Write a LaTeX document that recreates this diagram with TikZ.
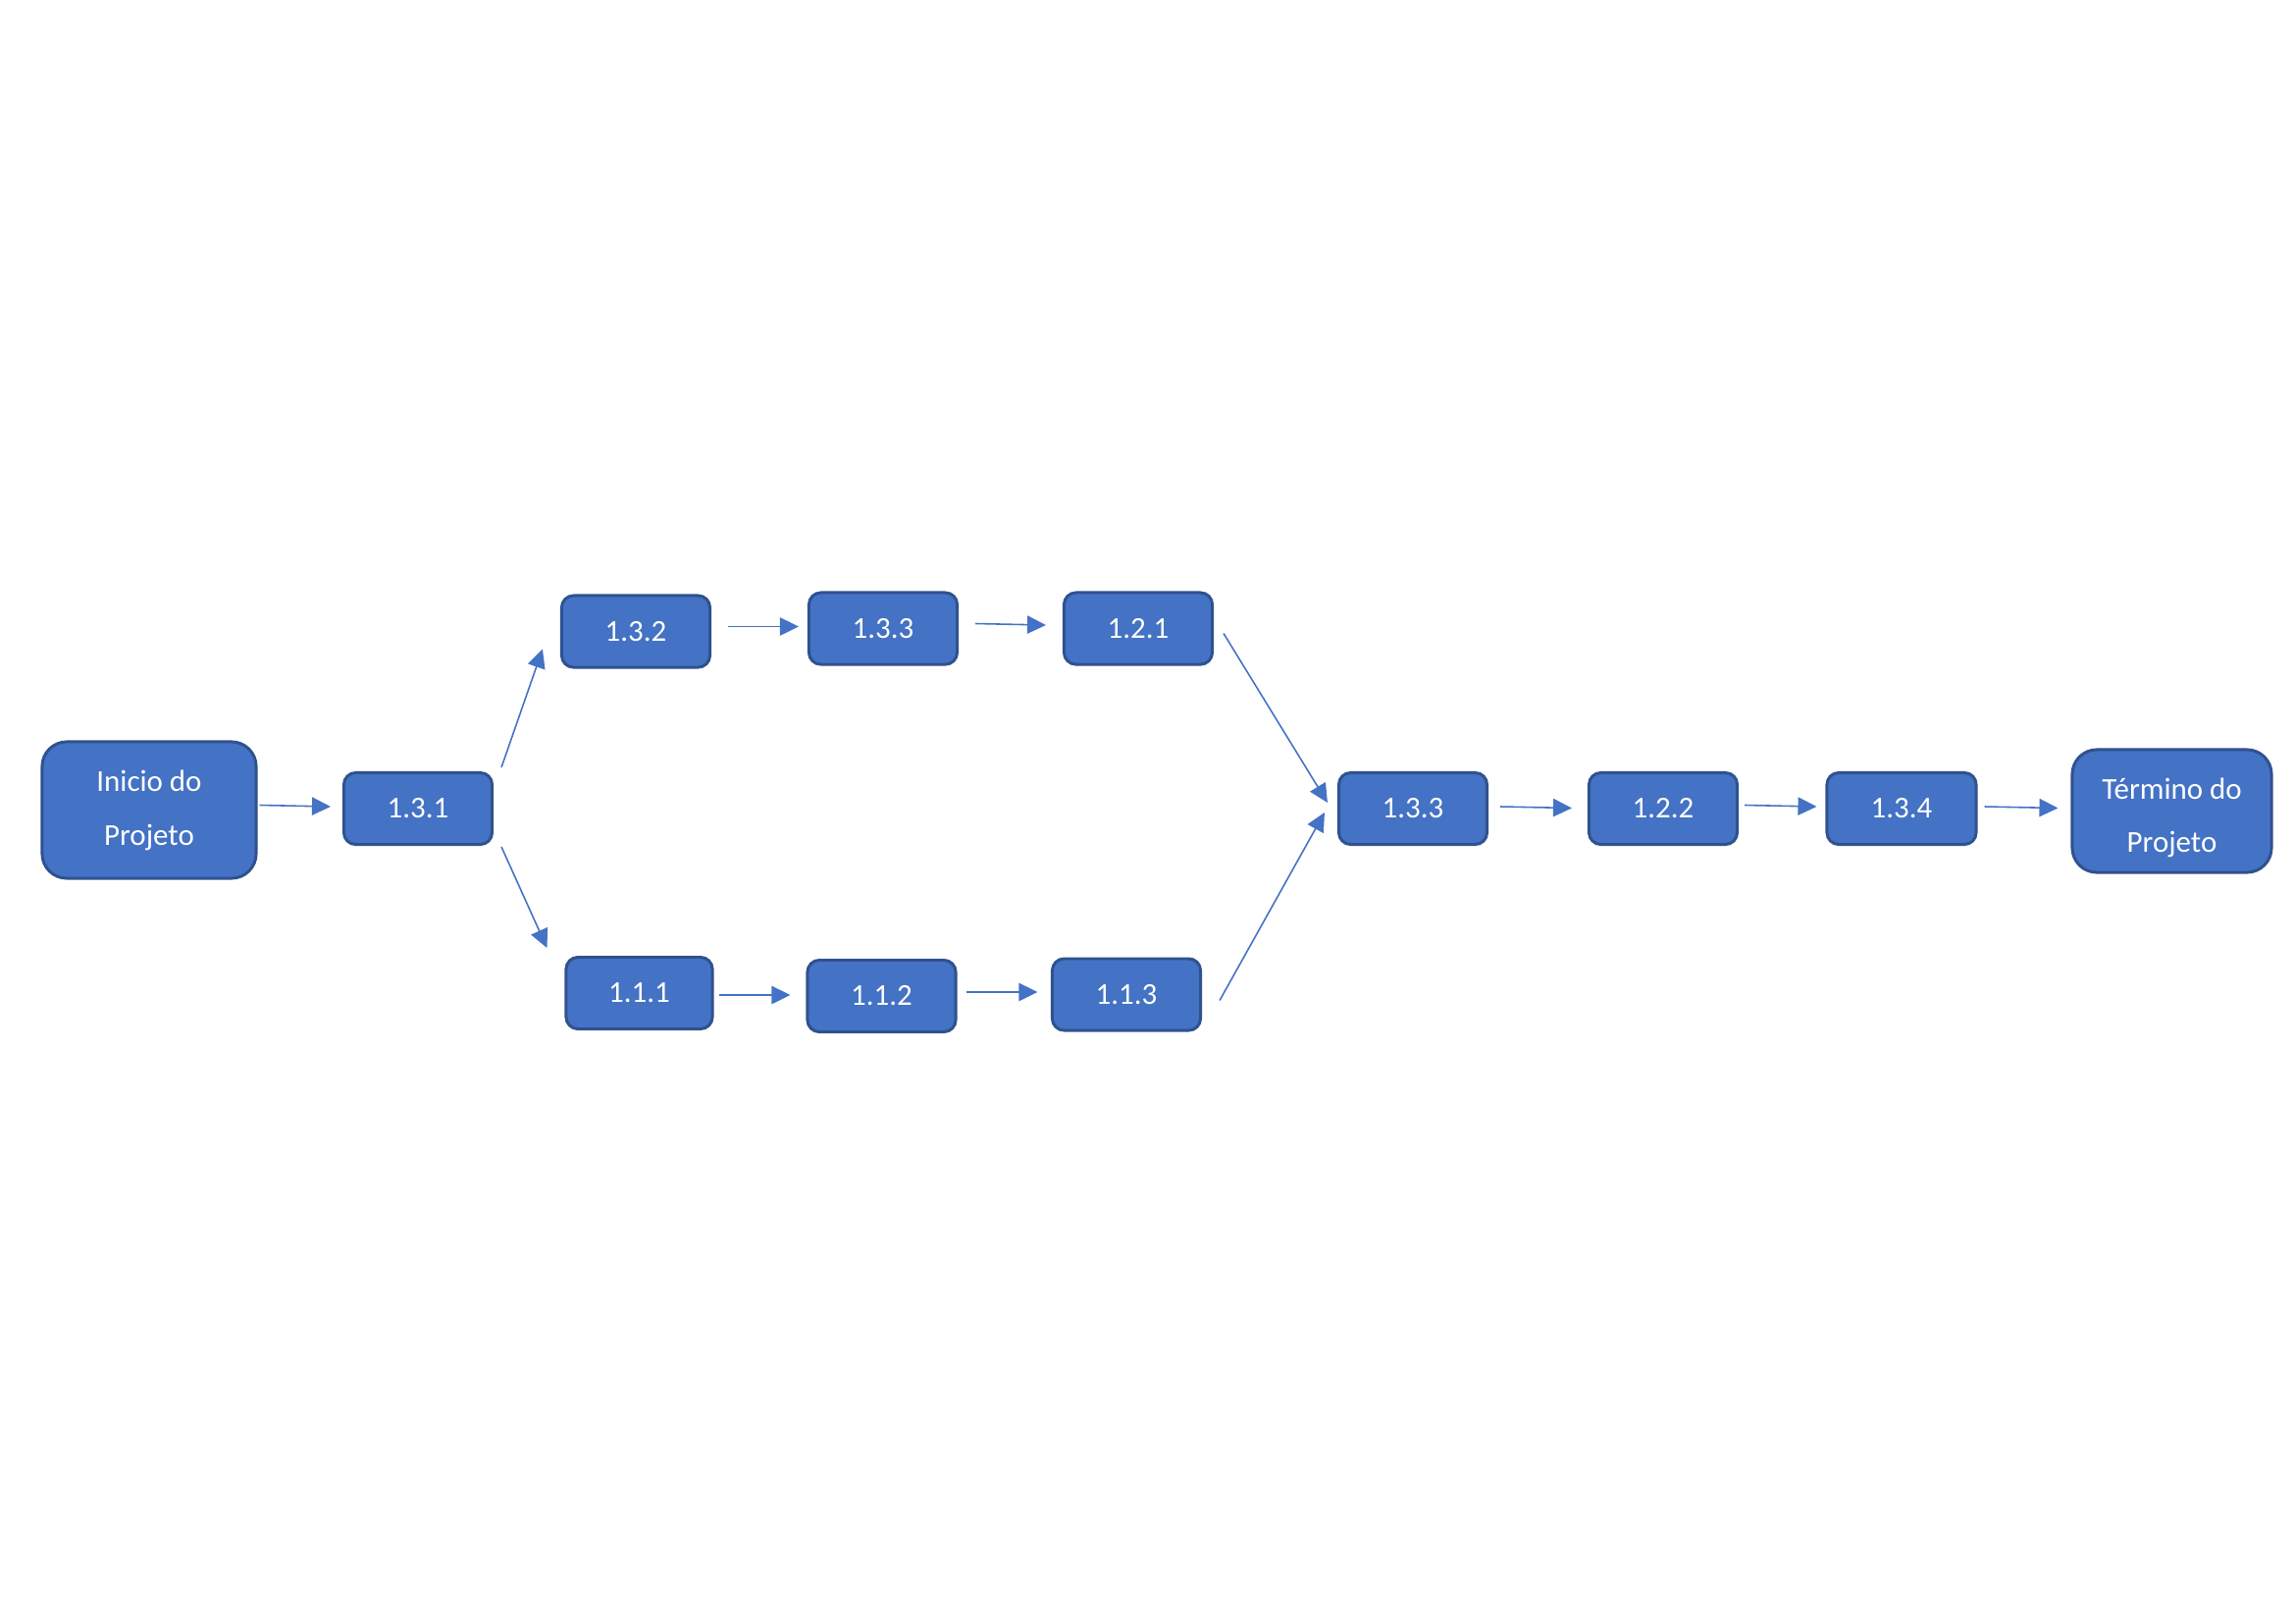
\documentclass[tikz,border=0pt]{standalone}
\usepackage{fontspec}
\setmainfont{Carlito}
\usetikzlibrary{arrows.meta,calc}
\definecolor{boxfill}{HTML}{4472C4}
\definecolor{boxline}{HTML}{2F528F}
\tikzset{
  task/.style={draw=boxline, line width=0.85pt, fill=boxfill, rounded corners=0.12cm,
    minimum width=1.51cm, minimum height=0.73cm, inner sep=0pt, text=white,
    font=\fontsize{8.8pt}{15.6pt}\selectfont},
  milestone/.style={task, rounded corners=0.25cm, align=center},
  link/.style={draw=boxfill, line width=0.45pt, -{Triangle[length=5.4pt,width=5.2pt]}},
}
\begin{document}
\begin{tikzpicture}[x=0.01cm,y=-0.01cm]
\useasboundingbox (0,0) rectangle (2339,1654);

% start and end milestones
\node[milestone, minimum width=2.18cm, minimum height=1.39cm] (ini) at (152,825.5) {Inicio do\\Projeto};
\node[milestone, minimum width=2.03cm, minimum height=1.25cm] (fim) at (2213.5,826.5) {\rule{0pt}{10pt}Término do\\Projeto};

% tasks
\node[task] (t131) at (426,824) {1.3.1};
\node[task] (t132) at (648,643.5) {1.3.2};
\node[task] (t133a) at (900,640.5) {1.3.3};
\node[task] (t121) at (1160,640.5) {1.2.1};
\node[task, minimum width=1.49cm] (t111) at (651.5,1012) {1.1.1};
\node[task] (t112) at (898.5,1015) {1.1.2};
\node[task] (t113) at (1148,1013.5) {1.1.3};
\node[task] (t133b) at (1440,824) {1.3.3};
\node[task] (t122) at (1695,824) {1.2.2};
\node[task, minimum width=1.52cm] (t134) at (1938,824) {1.3.4};

% precedence links
\draw[link] ($(ini.east)+(2,-5)$) -- ($(t131.west)+(-12,-2)$);
\draw[link] ($(t131.north east)+(8,-4)$) -- ($(t132.west)+(-18,18)$);
\draw[link] ($(t131.south east)+(8,1)$) -- ($(t111.north west)+(-18,-8)$);
\draw[link] ($(t132.east)+(17,-5)$) -- ($(t133a.west)+(-9,-2)$);
\draw[link] ($(t133a.east)+(17,-5)$) -- ($(t121.west)+(-17,-3.5)$);
\draw[link] ($(t121.east)+(10,5)$) -- ($(t133b.west)+(-10,-6)$);
\draw[link] ($(t113.east)+(18,6)$) -- ($(t133b.west)+(-13,4)$);
\draw[link] ($(t111.east)+(5,2)$) -- ($(t112.west)+(-16,-1)$);
\draw[link] ($(t112.east)+(9,-4)$) -- ($(t113.west)+(-13.5,-2.5)$);
\draw[link] ($(t133b.east)+(12,-2)$) -- ($(t122.west)+(-16,-0.5)$);
\draw[link] ($(t122.east)+(6,-3.5)$) -- ($(t134.west)+(-9,-2)$);
\draw[link] ($(t134.east)+(7,-2)$) -- ($(fim.west)+(-13,-3)$);
\end{tikzpicture}
\end{document}
